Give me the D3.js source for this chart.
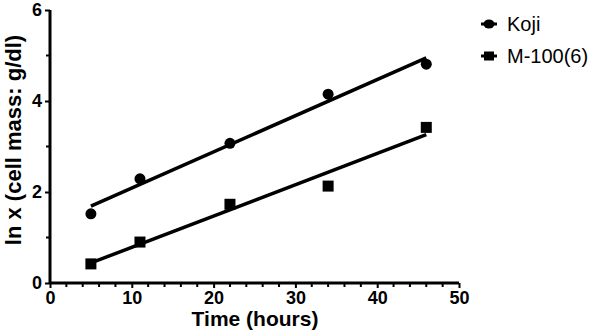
<!DOCTYPE html>
<html><head><meta charset="utf-8">
<script src="https://cdn.jsdelivr.net/npm/d3@7"></script>
<style>body{margin:0;background:#fff}svg{display:block}text{font-family:"Liberation Sans",Arial,sans-serif;fill:#000}
.tick text{font-weight:bold !important;font-size:18px}</style>
</head><body><svg id="c" width="596" height="330"></svg>
<script>
const timeHours = [5, 11, 22, 34, 46];
const kojiValues = [1.52, 2.29, 3.07, 4.15, 4.81];
const m100Values = [0.42, 0.90, 1.73, 2.13, 3.42];
const seriesNames = ["Koji", "M-100(6)"];
const xTicks = [0, 10, 20, 30, 40, 50];
const yTicks = [0, 2, 4, 6];
const xMinor = [2,4,6,8,12,14,16,18,22,24,26,28,32,34,36,38,42,44,46,48];
const yMinor = [1,3,5];

const svg = d3.select("#c");
const x = d3.scaleLinear().domain([0,50]).range([50,459]);
const y = d3.scaleLinear().domain([0,6]).range([283,10]);

function fit(xs, ys){
  const mx=d3.mean(xs), my=d3.mean(ys);
  let sxy=0,sxx=0;
  xs.forEach((v,i)=>{sxy+=(v-mx)*(ys[i]-my);sxx+=(v-mx)*(v-mx);});
  const b=sxy/sxx; return {a:my-b*mx,b};
}

// axes
const gx = svg.append("g").attr("transform","translate(0,283)")
  .call(d3.axisBottom(x).tickValues(xTicks).tickFormat(d3.format("d")).tickSize(5).tickPadding(3));
const gy = svg.append("g").attr("transform","translate(50,0)")
  .call(d3.axisLeft(y).tickValues(yTicks).tickFormat(d3.format("d")).tickSize(5).tickPadding(3));
[gx,gy].forEach(g=>{
  g.attr("font-family",null).attr("font-size",null);
  g.select(".domain").attr("stroke","#000").attr("stroke-width",3);
  g.selectAll(".tick line").attr("stroke","#000").attr("stroke-width",2);
  g.selectAll(".tick text").attr("fill","#000");
});
gx.select(".domain").attr("d","M50,0H459");
gy.select(".domain").attr("d","M0,283V10");
gx.selectAll(".tick text").attr("dy","0.7em");
svg.append("g").selectAll("line").data(xMinor).join("line")
  .attr("x1",d=>x(d)).attr("x2",d=>x(d)).attr("y1",283).attr("y2",287)
  .attr("stroke","#000").attr("stroke-width",2);
svg.append("g").selectAll("line").data(yMinor).join("line")
  .attr("y1",d=>y(d)).attr("y2",d=>y(d)).attr("x1",50).attr("x2",46)
  .attr("stroke","#000").attr("stroke-width",2);

// titles
svg.append("text").attr("x",255).attr("y",326).attr("text-anchor","middle")
  .style("font-size","21px").style("font-weight","bold").text("Time (hours)");
svg.append("text").attr("transform","translate(21,140) rotate(-90)").attr("text-anchor","middle")
  .style("font-size","22px").style("font-weight","bold").text("ln x (cell mass: g/dl)");

// fits
[kojiValues, m100Values].forEach(vals=>{
  const f = fit(timeHours, vals);
  const x0=d3.min(timeHours), x1=d3.max(timeHours);
  svg.append("line").attr("x1",x(x0)).attr("y1",y(f.a+f.b*x0))
    .attr("x2",x(x1)).attr("y2",y(f.a+f.b*x1)).attr("stroke","#000").attr("stroke-width",3.5);
});

// points
svg.append("g").selectAll("circle").data(timeHours).join("circle")
  .attr("cx",d=>x(d)).attr("cy",(d,i)=>y(kojiValues[i])).attr("r",5.5).attr("fill","#000");
svg.append("g").selectAll("rect").data(timeHours).join("rect")
  .attr("x",d=>x(d)-5.5).attr("y",(d,i)=>y(m100Values[i])-5.5).attr("width",11).attr("height",11).attr("fill","#000");

// legend
const lg = svg.append("g");
[24,56].forEach((ly,i)=>{
  lg.append("line").attr("x1",481).attr("x2",497).attr("y1",ly).attr("y2",ly).attr("stroke","#000").attr("stroke-width",3);
  if(i===0) lg.append("ellipse").attr("cx",489).attr("cy",ly).attr("rx",5.5).attr("ry",4.5).attr("fill","#000");
  else lg.append("rect").attr("x",484).attr("y",ly-4.5).attr("width",10).attr("height",9).attr("fill","#000");
  lg.append("text").attr("x",507).attr("y",ly+7).style("font-size","20px").text(seriesNames[i]);
});
</script></body></html>
